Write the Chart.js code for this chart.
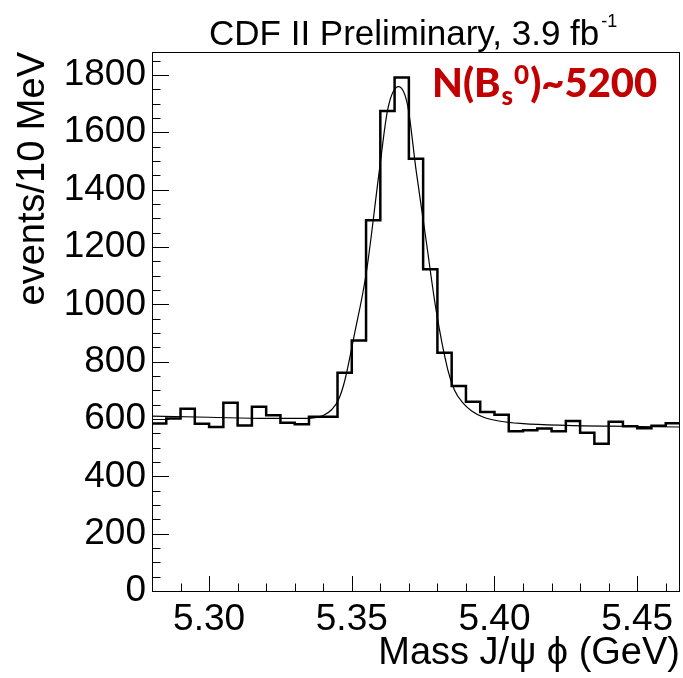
<!DOCTYPE html>
<html>
<head>
<meta charset="utf-8">
<script src="https://cdn.jsdelivr.net/npm/chart.js@4/dist/chart.umd.min.js"></script>
<style>
html,body{margin:0;padding:0;background:#fff;}
#wrap{width:683px;height:678px;}
</style>
</head>
<body>
<div id="wrap"><canvas id="c" width="683" height="678"></canvas></div>
<script>
// ---- data ----
const xMin = 5.28;
const xMax = 5.465;
const yMin = 0;
const yMax = 1880;

// lower edges of the 5 MeV bins (GeV)
const binLowEdges = [
  5.280, 5.285, 5.290, 5.295, 5.300, 5.305, 5.310, 5.315, 5.320, 5.325,
  5.330, 5.335, 5.340, 5.345, 5.350, 5.355, 5.360, 5.365, 5.370, 5.375,
  5.380, 5.385, 5.390, 5.395, 5.400, 5.405, 5.410, 5.415, 5.420, 5.425,
  5.430, 5.435, 5.440, 5.445, 5.450, 5.455, 5.460
];
// entries per bin
const counts = [
  584, 602, 636, 583, 572, 657, 577, 643, 613, 587,
  582, 608, 608, 761, 874, 1293, 1674, 1791, 1508, 1122,
  831, 715, 660, 624, 615, 557, 561, 567, 557, 593,
  552, 514, 590, 575, 568, 576, 585
];

// fitted curve, points
const fitX = [5.280, 5.300, 5.320, 5.335, 5.340, 5.343, 5.3453, 5.3476, 5.3508, 5.3551,
              5.3597, 5.3626, 5.3664, 5.3696, 5.3725, 5.3760, 5.3795, 5.3836, 5.3860, 5.3890,
              5.3920, 5.3960, 5.4020, 5.4100, 5.4250, 5.4400, 5.4650];
const fitY = [610, 606, 602, 602, 612, 633, 666, 736, 889, 1111,
              1470, 1680, 1759, 1692, 1470, 1226, 982, 773, 700, 655,
              628, 607, 592, 584, 578, 575, 572];

// axis ticks
const xTickValues = [5.30, 5.35, 5.40, 5.45];
const xTickLabels = ["5.30", "5.35", "5.40", "5.45"];
const xMinorTicks = [5.29, 5.30, 5.31, 5.32, 5.33, 5.34, 5.35, 5.36, 5.37, 5.38,
                     5.39, 5.40, 5.41, 5.42, 5.43, 5.44, 5.45, 5.46];
const yTickValues = [0, 200, 400, 600, 800, 1000, 1200, 1400, 1600, 1800];
const yTickLabels = ["0", "200", "400", "600", "800", "1000", "1200", "1400", "1600", "1800"];
const yMinorTicks = [0, 50, 100, 150, 200, 250, 300, 350, 400, 450, 500, 550, 600, 650,
                     700, 750, 800, 850, 900, 950, 1000, 1050, 1100, 1150, 1200, 1250,
                     1300, 1350, 1400, 1450, 1500, 1550, 1600, 1650, 1700, 1750, 1800, 1850];

const titleText = "CDF II Preliminary, 3.9 fb";
const titleSup = "-1";
const xTitle = "Mass J/\u03c8 \u03d5 (GeV)";
const yTitle = "events/10 MeV";
const yieldParts = ["N(B", "s", "0", ")~5200"];

// ---- build datasets ----
const histPoints = counts.map((c, i) => ({x: binLowEdges[i], y: c}));
histPoints.push({x: xMax, y: counts[counts.length - 1]});
const fitPoints = fitX.map((v, i) => ({x: v, y: fitY[i]}));

const FONT = '"Liberation Sans", Arial, Helvetica, sans-serif';

const rootStyle = {
  id: 'rootStyle',
  afterDraw(chart) {
    const {ctx, chartArea: a, scales: {x, y}} = chart;
    ctx.save();
    ctx.strokeStyle = '#000';
    ctx.lineWidth = 1;
    // frame
    ctx.strokeRect(Math.round(a.left) + 0.5, Math.round(a.top) + 0.5,
                   Math.round(a.right - a.left) - 1, Math.round(a.bottom - a.top));
    ctx.beginPath();
    xMinorTicks.forEach(v => {
      const px = Math.round(x.getPixelForValue(v)) + 0.5;
      const major = xTickValues.some(t => Math.abs(t - v) < 1e-9);
      ctx.moveTo(px, a.bottom);
      ctx.lineTo(px, a.bottom - (major ? 15 : 7.5));
    });
    yMinorTicks.forEach(v => {
      const py = Math.round(y.getPixelForValue(v)) + 0.5;
      const major = yTickValues.indexOf(v) >= 0;
      ctx.moveTo(a.left, py);
      ctx.lineTo(a.left + (major ? 17 : 8.5), py);
    });
    ctx.stroke();

    // title
    ctx.fillStyle = '#000';
    ctx.textBaseline = 'alphabetic';
    ctx.textAlign = 'left';
    ctx.font = '35px ' + FONT;
    ctx.fillText(titleText, 209, 45);
    const tw = ctx.measureText(titleText).width;
    ctx.font = '18px ' + FONT;
    ctx.fillText(titleSup, 209 + tw + 2, 27);

    // yield label
    ctx.fillStyle = '#c30000';
    let px = 432;
    const big = '900 40px Lato, "Open Sans", sans-serif';
    const small = '900 26px Lato, "Open Sans", sans-serif';
    ctx.font = big;
    ctx.fillText(yieldParts[0], px, 97);
    px += ctx.measureText(yieldParts[0]).width + 1;
    ctx.font = small;
    ctx.fillText(yieldParts[1], px, 105);
    const sw = ctx.measureText(yieldParts[1]).width;
    ctx.fillText(yieldParts[2], px + sw + 1, 84);
    px += sw + 1 + ctx.measureText(yieldParts[2]).width + 1;
    ctx.font = big;
    ctx.fillText(yieldParts[3], px, 97);
    ctx.restore();
  }
};

new Chart(document.getElementById('c'), {
  type: 'line',
  data: {
    datasets: [
      {
        label: 'data',
        data: histPoints,
        stepped: 'before',
        borderColor: '#000',
        borderWidth: 2.5,
        pointRadius: 0,
        fill: false
      },
      {
        label: 'fit',
        data: fitPoints,
        borderColor: '#000',
        borderWidth: 1.2,
        pointRadius: 0,
        cubicInterpolationMode: 'monotone',
        fill: false
      }
    ]
  },
  options: {
    responsive: false,
    animation: false,
    devicePixelRatio: 1,
    layout: {padding: {top: 52, right: 3, left: 0, bottom: 0}},
    plugins: {
      legend: {display: false},
      tooltip: {enabled: false},
      title: {display: false}
    },
    scales: {
      x: {
        type: 'linear',
        min: xMin,
        max: xMax,
        grid: {display: false, drawTicks: false},
        border: {display: false},
        afterBuildTicks: s => { s.ticks = xTickValues.map(v => ({value: v})); },
        ticks: {
          autoSkip: false, maxRotation: 0, minRotation: 0,
          color: '#000',
          padding: 7,
          font: {family: FONT, size: 37},
          callback: (v, i) => xTickLabels[i]
        },
        title: {
          display: true, text: xTitle, align: 'end', color: '#000',
          font: {family: FONT, size: 38, lineHeight: 1},
          padding: {top: 0, bottom: 5}
        },
        afterFit: s => { s.height = 87; s.paddingLeft = 0; s.paddingRight = 0; }
      },
      y: {
        type: 'linear',
        min: yMin,
        max: yMax,
        grid: {display: false, drawTicks: false},
        border: {display: false},
        afterBuildTicks: s => { s.ticks = yTickValues.map(v => ({value: v})); },
        ticks: {
          autoSkip: false,
          color: '#000',
          padding: 6,
          font: {family: FONT, size: 37},
          callback: (v, i) => yTickLabels[i]
        },
        title: {
          display: true, text: yTitle, align: 'end', color: '#000',
          font: {family: FONT, size: 38, lineHeight: 1},
          padding: {top: 15, bottom: 0}
        },
        afterFit: s => { s.width = 152; s.paddingTop = 0; s.paddingBottom = 0; }
      }
    }
  },
  plugins: [rootStyle]
});
</script>
</body>
</html>
